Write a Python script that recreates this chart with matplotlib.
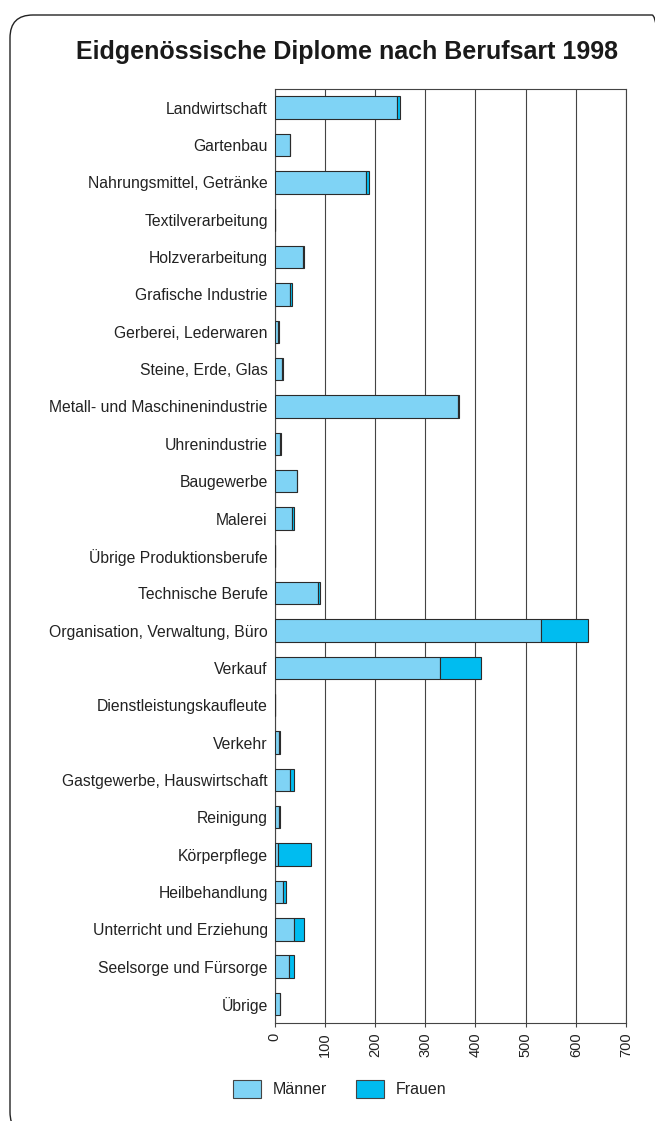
import matplotlib
matplotlib.use("Agg")
import matplotlib.pyplot as plt
from matplotlib.patches import FancyBboxPatch, Rectangle

plt.rcParams["font.family"] = ["Liberation Sans", "DejaVu Sans"]

# ── Data ────────────────────────────────────────────────────────────────────
categories = [
    "Landwirtschaft", "Gartenbau", "Nahrungsmittel, Getränke", "Textilverarbeitung",
    "Holzverarbeitung", "Grafische Industrie", "Gerberei, Lederwaren",
    "Steine, Erde, Glas", "Metall- und Maschinenindustrie", "Uhrenindustrie",
    "Baugewerbe", "Malerei", "Übrige Produktionsberufe", "Technische Berufe",
    "Organisation, Verwaltung, Büro", "Verkauf", "Dienstleistungskaufleute",
    "Verkehr", "Gastgewerbe, Hauswirtschaft", "Reinigung", "Körperpflege",
    "Heilbehandlung", "Unterricht und Erziehung", "Seelsorge und Fürsorge", "Übrige",
]
maenner = [243, 30, 182, 1, 57, 31, 7, 15, 366, 11, 44, 35, 1, 87,
           531, 329, 0, 9, 31, 9, 7, 17, 39, 29, 10]
frauen = [7, 1, 6, 0, 1, 4, 2, 1, 1, 1, 0, 3, 0, 4,
          94, 83, 0, 2, 7, 2, 66, 6, 20, 9, 1]
x_ticks = [0, 100, 200, 300, 400, 500, 600, 700]

C_MEN = "#7fd3f5"
C_WOMEN = "#00bcf0"
EDGE = "#2b2b2b"

W, H = 655, 1121
fig = plt.figure(figsize=(W / 100, H / 100), dpi=100)

# rounded frame, running off the right and bottom edges
frame = FancyBboxPatch((10 / W, 1 - 1135 / H), 665 / W, 1120 / H,
                       boxstyle="round,pad=0,rounding_size=0.035",
                       transform=fig.transFigure, fill=False,
                       edgecolor="#222222", linewidth=1.0, mutation_aspect=W / H)
fig.patches.append(frame)

fig.text(347 / W, 1 - 52 / H, "Eidgenössische Diplome nach Berufsart 1998",
         ha="center", va="center", fontsize=18, fontweight="bold", color="#1a1a1a")

ax = fig.add_axes([274.7 / W, 1 - 1022.7 / H, (626 - 274.7) / W, (1022.7 - 89) / H])
y = list(range(len(categories)))
ax.barh(y, maenner, height=0.6, color=C_MEN, edgecolor=EDGE, linewidth=0.8, zorder=3)
ax.barh(y, frauen, left=maenner, height=0.6, color=C_WOMEN, edgecolor=EDGE,
        linewidth=0.8, zorder=3)

ax.set_xlim(0, 700)
ax.set_ylim(len(categories) - 0.5, -0.5)
ax.set_xticks(x_ticks)
ax.set_xticklabels([str(t) for t in x_ticks], rotation=90, fontsize=10.5, color="#222222")
ax.set_yticks(y)
ax.set_yticklabels(categories, fontsize=11.3, color="#222222")
ax.tick_params(axis="y", length=0, pad=5)
ax.tick_params(axis="x", length=3, width=0.8, color="#444444", pad=4)
ax.xaxis.grid(True, color="#444444", linewidth=0.8, zorder=1)
for s in ["top", "bottom", "left", "right"]:
    ax.spines[s].set_color("#444444")
    ax.spines[s].set_linewidth(0.8)

# legend drawn by hand to match positions
for x0, col, lab in [(233, C_MEN, "Männer"), (356, C_WOMEN, "Frauen")]:
    fig.patches.append(Rectangle((x0 / W, 1 - 1098 / H), 28 / W, 18 / H,
                                 transform=fig.transFigure, facecolor=col,
                                 edgecolor="#444444", linewidth=0.8))
    fig.text((x0 + 40) / W, 1 - 1089 / H, lab, ha="left", va="center",
             fontsize=11.5, color="#222222")

fig.savefig("out.png", dpi=100)
